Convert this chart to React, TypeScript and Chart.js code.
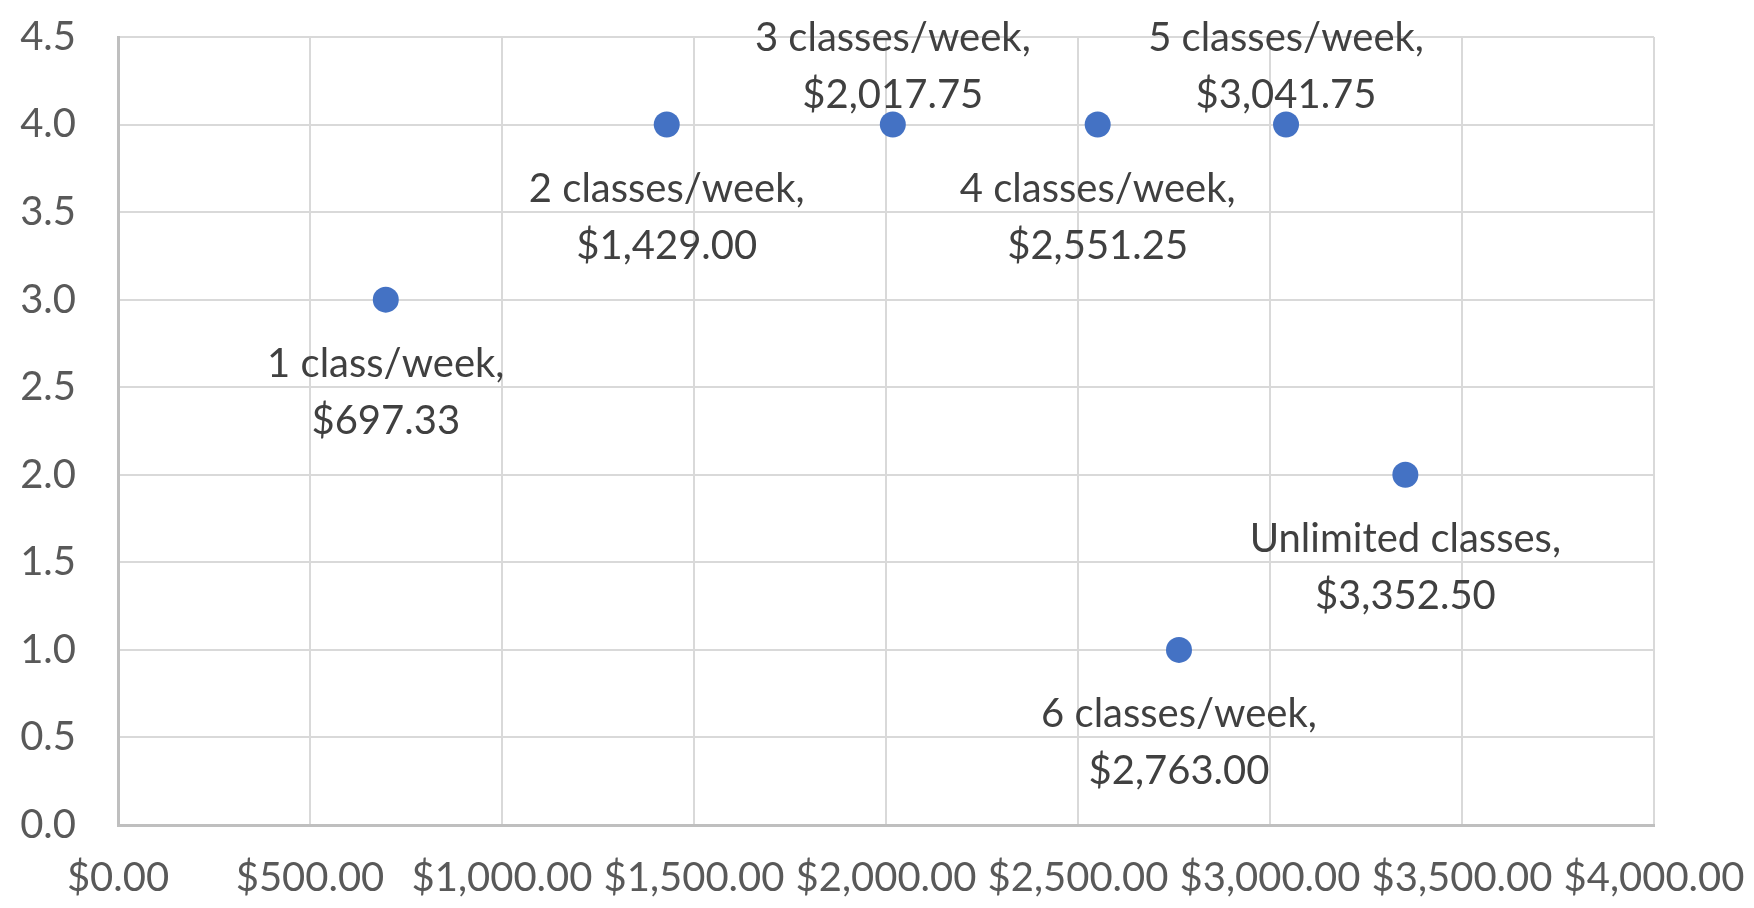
import React, { useEffect, useRef } from "react";
import { Chart, registerables } from "chart.js";

Chart.register(...registerables);

const categories = [
  "1 class/week",
  "2 classes/week",
  "3 classes/week",
  "4 classes/week",
  "5 classes/week",
  "6 classes/week",
  "Unlimited classes",
];
const costValues = [697.33, 1429.0, 2017.75, 2551.25, 3041.75, 2763.0, 3352.5];
const ratingValues = [3, 4, 4, 4, 4, 1, 2];
const labelPlacement = ["below", "below", "above", "below", "above", "below", "below"];
const xTickMin = 0;
const xTickMax = 4000;
const xTickStep = 500;
const yTickMin = 0;
const yTickMax = 4.5;
const yTickStep = 0.5;

const FONT = "Lato";
const money = (v: number) =>
  "$" + v.toLocaleString("en-US", { minimumFractionDigits: 2, maximumFractionDigits: 2 });

const labelPlugin = {
  id: "pointLabels",
  afterDatasetsDraw(chart: any) {
    const ctx = chart.ctx;
    const meta = chart.getDatasetMeta(0);
    ctx.save();
    ctx.font = `40px ${FONT}`;
    ctx.fillStyle = "#404040";
    ctx.textAlign = "center";
    ctx.textBaseline = "alphabetic";
    meta.data.forEach((pt: any, i: number) => {
      const l1 = categories[i] + ",";
      const l2 = money(costValues[i]);
      if (labelPlacement[i] === "above") {
        ctx.fillText(l1, pt.x, pt.y - 74);
        ctx.fillText(l2, pt.x, pt.y - 17);
      } else {
        ctx.fillText(l1, pt.x, pt.y + 77);
        ctx.fillText(l2, pt.x, pt.y + 134);
      }
    });
    ctx.restore();
  },
};

export default function App() {
  const ref = useRef<HTMLCanvasElement>(null);
  useEffect(() => {
    document.body.style.margin = "0";
    const chart = new Chart(ref.current!, {
      type: "scatter",
      data: {
        datasets: [
          {
            data: costValues.map((x, i) => ({ x, y: ratingValues[i] })),
            backgroundColor: "#4472C4",
            borderWidth: 0,
            pointRadius: 13,
            pointHoverRadius: 13,
          },
        ],
      },
      options: {
        animation: false,
        responsive: false,
        layout: { padding: { left: 0, right: 100, top: 37, bottom: 0 } },
        plugins: { legend: { display: false }, tooltip: { enabled: false } },
        scales: {
          x: {
            type: "linear",
            min: xTickMin,
            max: xTickMax,
            ticks: {
              stepSize: xTickStep,
              padding: 29,
              color: "#595959",
              font: { family: FONT, size: 40 },
              maxRotation: 0,
              autoSkip: false,
              callback: (v: any) => money(Number(v)),
            },
            grid: { color: "#d9d9d9", lineWidth: 2, drawTicks: false },
            border: { color: "#bfbfbf", width: 3 },
            afterFit: (s: any) => {
              s.height = 83;
              s.paddingLeft = 0;
              s.paddingRight = 0;
            },
          },
          y: {
            type: "linear",
            min: yTickMin,
            max: yTickMax,
            ticks: {
              stepSize: yTickStep,
              padding: 42,
              color: "#595959",
              font: { family: FONT, size: 40 },
              callback: (v: any) => Number(v).toFixed(1),
            },
            grid: { color: "#d9d9d9", lineWidth: 2, drawTicks: false },
            border: { color: "#bfbfbf", width: 3 },
            afterFit: (s: any) => {
              s.width = 118;
              s.paddingTop = 0;
              s.paddingBottom = 0;
            },
          },
        },
      },
      plugins: [labelPlugin],
    });
    return () => chart.destroy();
  }, []);
  return <canvas ref={ref} width={1754} height={908} style={{ display: "block" }} />;
}
